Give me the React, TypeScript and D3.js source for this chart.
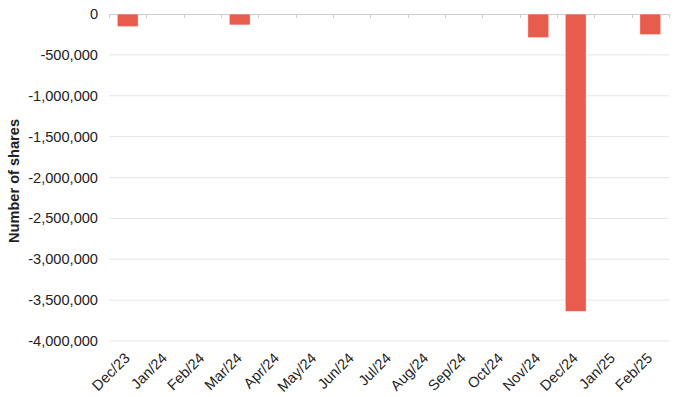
import React from "react";
import * as d3 from "d3";

const categories = ["Dec/23","Jan/24","Feb/24","Mar/24","Apr/24","May/24","Jun/24","Jul/24","Aug/24","Sep/24","Oct/24","Nov/24","Dec/24","Jan/25","Feb/25"];
const values = [-155000, 0, 0, -134000, 0, 0, 0, 0, 0, 0, 0, -290000, -3637000, 0, -253000];
const yTicks = [0, -500000, -1000000, -1500000, -2000000, -2500000, -3000000, -3500000, -4000000];

const W = 680, H = 397;
const left = 109, right = 669, top = 14, bottom = 341;

export default function App() {
  const x = d3.scaleBand<string>().domain(categories).range([left, right]).padding(0);
  const y = d3.scaleLinear().domain([0, -4000000]).range([top, bottom]);
  const bw = x.bandwidth() * 0.56;
  const fmt = d3.format(",");
  const font = "'Liberation Sans', Arial, sans-serif";
  return (
    <svg width={W} height={H} style={{ position: "absolute", left: 0, top: 0 }} fontFamily={font}>
      {yTicks.map((t) => (
        <g key={t}>
          {t !== 0 && <line x1={left} x2={right} y1={y(t)} y2={y(t)} stroke="#e6e6e6" strokeWidth={1} />}
          <text x={98} y={y(t)} dy="0.35em" textAnchor="end" fontSize={14.6} fill="#222">{t === 0 ? "0" : "-" + fmt(-t)}</text>
        </g>
      ))}
      <line x1={left} x2={right} y1={top + 0.5} y2={top + 0.5} stroke="#ccc" strokeWidth={1} />
      {categories.concat(["__end"]).map((c, i) => {
        const xx = Math.round(left + i * x.step()) + 0.5;
        return <line key={c} x1={xx} x2={xx} y1={top} y2={top + 4} stroke="#ccc" strokeWidth={1} />;
      })}
      {categories.map((c, i) => values[i] !== 0 && (
        <rect key={c} x={(x(c) as number) + (x.bandwidth() - bw) / 2} y={y(0)} width={bw} height={y(values[i]) - y(0)} fill="#e85c4e" stroke="#fff" strokeWidth={0.5} />
      ))}
      {categories.map((c) => {
        const cx = (x(c) as number) + x.bandwidth() / 2;
        return (
          <text key={c} transform={`translate(${cx + 3},${359}) rotate(-45)`} textAnchor="end" fontSize={14.6} fill="#222">{c}</text>
        );
      })}
      <text transform={`translate(19,${181}) rotate(-90)`} textAnchor="middle" fontSize={14.6} fontWeight="bold" fill="#222">Number of shares</text>
    </svg>
  );
}
